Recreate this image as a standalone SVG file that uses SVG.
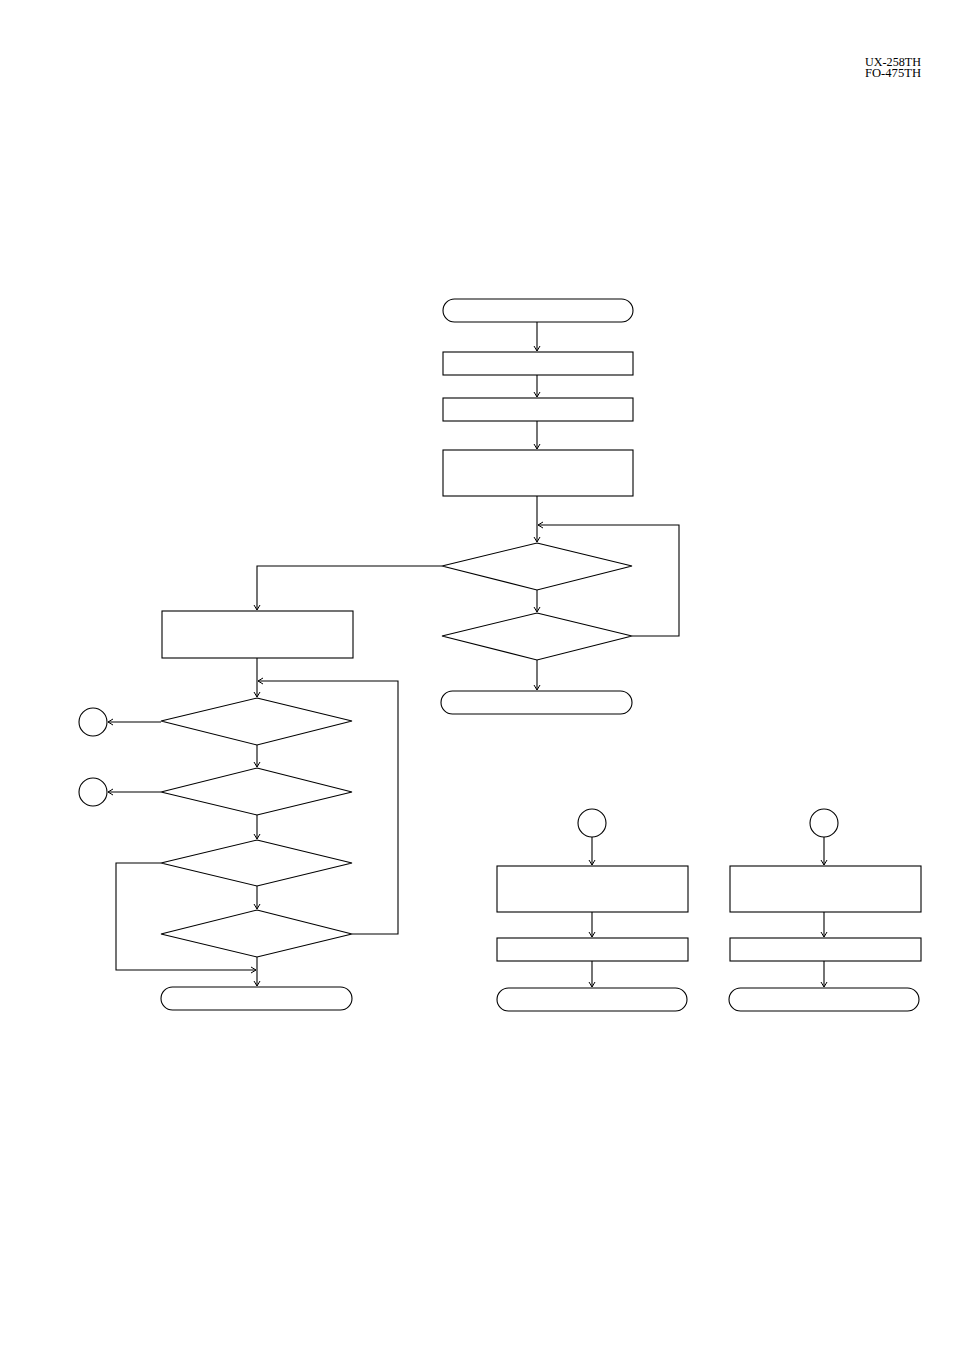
<svg xmlns="http://www.w3.org/2000/svg" width="954" height="1351" viewBox="0 0 954 1351">
<style>
.s{fill:#fff;stroke:#000;stroke-width:1.1}
.c{fill:none;stroke:#000;stroke-width:1.1}
.h{font-family:"Liberation Serif",serif;font-size:11.5px;fill:#000}
</style>
<defs>
<marker id="a" markerWidth="8" markerHeight="8" refX="6" refY="4" orient="auto" markerUnits="userSpaceOnUse">
<path d="M1,1 L6,4 L1,7" fill="none" stroke="#000" stroke-width="1"/>
</marker>
</defs>
<rect width="954" height="1351" fill="#fff"/>
<g id="header">
<text class="h" x="865" y="66" textLength="56" lengthAdjust="spacingAndGlyphs">UX-258TH</text>
<text class="h" x="865" y="77" textLength="56" lengthAdjust="spacingAndGlyphs">FO-475TH</text>
</g>
<g id="connectors">
<path class="c" d="M537,322 V351" marker-end="url(#a)"/>
<path class="c" d="M537,375 V397" marker-end="url(#a)"/>
<path class="c" d="M537,421 V449" marker-end="url(#a)"/>
<path class="c" d="M537,496 V542" marker-end="url(#a)"/>
<path class="c" d="M537,590 V612" marker-end="url(#a)"/>
<path class="c" d="M632,636 H679 V525 H538" marker-end="url(#a)"/>
<path class="c" d="M537,660 V690" marker-end="url(#a)"/>
<path class="c" d="M442,566 H257 V610" marker-end="url(#a)"/>
<path class="c" d="M257,658 V697" marker-end="url(#a)"/>
<path class="c" d="M161,722 H108" marker-end="url(#a)"/>
<path class="c" d="M257,745 V767" marker-end="url(#a)"/>
<path class="c" d="M161,792 H108" marker-end="url(#a)"/>
<path class="c" d="M257,815 V839" marker-end="url(#a)"/>
<path class="c" d="M257,886 V909" marker-end="url(#a)"/>
<path class="c" d="M161,863 H116 V970 H256" marker-end="url(#a)"/>
<path class="c" d="M352,934 H398 V681 H258" marker-end="url(#a)"/>
<path class="c" d="M257,957 V986" marker-end="url(#a)"/>
<path class="c" d="M592,837 V865" marker-end="url(#a)"/>
<path class="c" d="M592,912 V937" marker-end="url(#a)"/>
<path class="c" d="M592,961 V987" marker-end="url(#a)"/>
<path class="c" d="M824,837 V865" marker-end="url(#a)"/>
<path class="c" d="M824,912 V937" marker-end="url(#a)"/>
<path class="c" d="M824,961 V987" marker-end="url(#a)"/>
</g>
<g id="start"><rect class="s" x="443" y="299" width="190" height="23" rx="11.5"/></g>
<g id="p1"><rect class="s" x="443" y="352" width="190" height="23"/></g>
<g id="p2"><rect class="s" x="443" y="398" width="190" height="23"/></g>
<g id="p3"><rect class="s" x="443" y="450" width="190" height="46"/></g>
<g id="d1"><polygon class="s" points="537,543 632,566 537,590 442,566"/></g>
<g id="d2"><polygon class="s" points="537,613 632,636 537,660 442,636"/></g>
<g id="end1"><rect class="s" x="441" y="691" width="191" height="23" rx="11.5"/></g>
<g id="p4"><rect class="s" x="162" y="611" width="191" height="47"/></g>
<g id="dA"><polygon class="s" points="257,698 352,721 257,745 161,721"/></g>
<g id="cA"><circle class="s" cx="93" cy="722" r="14"/></g>
<g id="dB"><polygon class="s" points="257,768 352,792 257,815 161,792"/></g>
<g id="cB"><circle class="s" cx="93" cy="792" r="14"/></g>
<g id="dC"><polygon class="s" points="257,840 352,863 257,886 161,863"/></g>
<g id="dD"><polygon class="s" points="257,910 352,934 257,957 161,934"/></g>
<g id="end2"><rect class="s" x="161" y="987" width="191" height="23" rx="11.5"/></g>
<g id="cC"><circle class="s" cx="592" cy="823" r="14"/></g>
<g id="p5"><rect class="s" x="497" y="866" width="191" height="46"/></g>
<g id="p6"><rect class="s" x="497" y="938" width="191" height="23"/></g>
<g id="end3"><rect class="s" x="497" y="988" width="190" height="23" rx="11.5"/></g>
<g id="cD"><circle class="s" cx="824" cy="823" r="14"/></g>
<g id="p7"><rect class="s" x="730" y="866" width="191" height="46"/></g>
<g id="p8"><rect class="s" x="730" y="938" width="191" height="23"/></g>
<g id="end4"><rect class="s" x="729" y="988" width="190" height="23" rx="11.5"/></g>
</svg>
